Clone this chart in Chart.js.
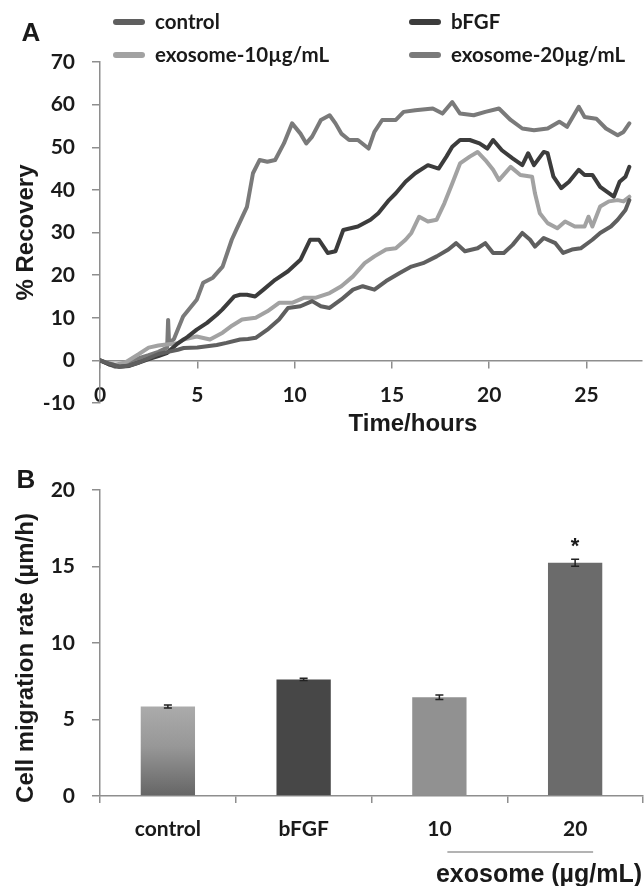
<!DOCTYPE html>
<html>
<head>
<meta charset="utf-8">
<script src="https://cdn.jsdelivr.net/npm/chart.js@4.4.0/dist/chart.umd.min.js"></script>
<style>
    body { margin: 0; background: #fff; }
    #wrap { position: relative; width: 644px; height: 886px; }
    canvas { position: absolute; left: 0; }
    #chartA { top: 0; }
    #chartB { top: 460px; }
</style>
</head>
<body>
<div id="wrap">
    <canvas id="chartA" width="644" height="450"></canvas>
    <canvas id="chartB" width="644" height="426"></canvas>
</div>
<script>
//DATA PANEL A  [time in hours, % recovery]
const seriesNames = ['control', 'bFGF', 'exosome-10µg/mL', 'exosome-20µg/mL'];
const seriesColors = ['#5f5f5f', '#3c3c3c', '#a2a2a2', '#7a7a7a'];

const controlCurve = [[0,0],[0.5,-0.8],[1,-1.5],[1.5,-1.2],[2,-0.5],[2.5,0.5],[3,1.5],[3.5,2],[4,2.5],[4.3,2.9],[5,3],[5.5,3.3],[6,3.6],[6.5,4.1],[7.2,4.9],[7.6,5],[8,5.3],[8.6,7.2],[9.2,9.6],[9.66,12.3],[10.3,12.7],[10.9,13.9],[11.35,12.7],[11.8,12.3],[12.4,14.3],[13,16.6],[13.5,17.4],[14.1,16.6],[14.7,18.6],[15.4,20.5],[16,22],[16.6,22.8],[17.3,24.4],[17.9,26],[18.3,27.5],[18.75,25.6],[19.4,26.3],[19.8,27.5],[20.2,25.2],[20.75,25.2],[21.2,27.1],[21.7,29.9],[22.1,28.3],[22.35,26.7],[22.8,28.7],[23.4,27.5],[23.8,25.2],[24.25,26],[24.7,26.3],[25.3,28.3],[25.7,29.9],[26.25,31.4],[26.6,33],[27,35.3],[27.2,37.6]];

const bfgfCurve = [[0,0],[0.5,-1],[1,-1.5],[1.5,-1.3],[2,-0.5],[2.5,0.3],[3,1],[3.43,1.7],[4,4],[4.5,5.5],[4.97,7.2],[5.5,8.8],[6,10.7],[6.28,11.9],[6.9,15],[7.2,15.4],[7.55,15.4],[7.97,15],[8.4,16.6],[9,18.9],[9.66,20.9],[10.3,23.6],[10.8,28.3],[11.25,28.3],[11.7,25.2],[12.1,25.6],[12.5,30.6],[13.25,31.4],[13.9,33],[14.3,34.5],[14.85,37.6],[15.2,39.2],[15.7,41.9],[16.2,43.9],[16.85,45.8],[17.4,45],[17.8,47.8],[18.1,50.1],[18.5,51.7],[19,51.7],[19.5,50.9],[19.9,49.7],[20.2,51.7],[20.65,49.3],[21.2,47.4],[21.7,45.8],[22,48.6],[22.3,45.8],[22.8,48.9],[23,48.6],[23.3,43.1],[23.7,40.4],[24.1,41.9],[24.6,44.7],[24.9,43.5],[25.3,43.5],[25.7,40.7],[26.4,38.4],[26.7,41.9],[27,43.1],[27.2,45.4]];

const exo10Curve = [[0,0],[0.4,-0.6],[0.8,-1],[1.3,-0.5],[2,1.5],[2.5,3],[3,3.5],[3.5,3.8],[4,4],[4.28,4.9],[4.97,5.6],[5.65,4.9],[6.3,6.5],[6.8,8.2],[7.3,9.6],[8,10],[8.6,11.5],[9.2,13.5],[9.87,13.5],[10.5,14.7],[11.1,14.7],[11.8,15.8],[12.4,17.4],[13,19.7],[13.6,22.8],[14.1,24.4],[14.7,26],[15.2,26.3],[15.7,28.3],[16,29.9],[16.4,33.7],[16.85,32.6],[17.3,33],[17.7,36.9],[18.1,41.5],[18.5,46.2],[19,47.8],[19.4,48.9],[19.8,47],[20.2,44.7],[20.5,42.3],[21.1,45.4],[21.6,43.5],[22.2,43.1],[22.35,39.2],[22.6,34.5],[23,32.2],[23.5,31],[23.9,32.6],[24.4,31.4],[24.9,31.4],[25.1,33.7],[25.3,31.4],[25.7,36.1],[26.15,37.3],[26.6,37.6],[26.9,37.3],[27.2,38.4]];

const exo20Curve = [[0,0],[0.4,-0.8],[0.8,-1.5],[1.3,-1],[2,0.5],[2.5,1.2],[3,2],[3.45,3],[3.5,9.5],[3.55,4],[3.8,5],[4.27,10.3],[4.97,14.2],[5.3,18.2],[5.8,19.4],[6.3,22],[6.77,28.3],[7,30.6],[7.55,36],[7.86,43.9],[8.2,47],[8.6,46.6],[9,47],[9.45,50.9],[9.87,55.6],[10.3,53.2],[10.6,50.9],[10.9,52.5],[11.35,56.4],[11.8,57.5],[12.1,55.6],[12.4,53.2],[12.8,51.7],[13.25,51.7],[13.8,49.7],[14.1,53.6],[14.5,56.4],[15.2,56.4],[15.6,58.3],[16.2,58.7],[17.1,59.1],[17.6,57.9],[18.1,60.6],[18.5,57.9],[19.2,57.5],[19.8,58.3],[20.5,59.1],[21.1,56.4],[21.7,54.4],[22.3,54],[23,54.4],[23.6,56],[24,54.8],[24.6,59.5],[24.9,57.1],[25.5,56.7],[26,54.4],[26.6,52.8],[26.9,53.6],[27.2,55.6]];

//DATA PANEL B
const barLabels = ['control', 'bFGF', '10', '20'];
const barValues = [5.85, 7.62, 6.45, 15.25];
const barErrors = [0.1, 0.07, 0.15, 0.23];
const barColors = [null, '#474747', '#919191', '#6b6b6b'];

//STYLE
const axisGray = '#8e8e8e';
const textColor = '#1a1a1a';
const titleFamily = '"Liberation Sans", Arial, sans-serif';
const tickFont = { family: 'Lato', size: 21, weight: 'bold' };

const drawText = (ctx, text, x, y, size, rotate) => {
    ctx.save();
    ctx.fillStyle = textColor;
    ctx.font = 'bold ' + size + 'px ' + titleFamily;
    ctx.textAlign = 'center';
    ctx.textBaseline = 'middle';
    ctx.translate(x, y);
    if (rotate) ctx.rotate(-Math.PI / 2);
    ctx.fillText(text, 0, 0);
    ctx.restore();
}

const toPoints = (curve) => curve.map(p => ({ x: p[0], y: p[1] }));

//PANEL A
const curves = [controlCurve, bfgfCurve, exo10Curve, exo20Curve];

const panelAExtras = {
    id: 'panelAExtras',
    afterDraw(chart) {
        const ctx = chart.ctx;
        drawText(ctx, 'A', 31, 34, 26);
        drawText(ctx, 'Time/hours', 413, 424, 24);

        //legend 2x2
        const slots = [[116, 22], [412, 22], [116, 55], [412, 55]];
        chart.data.datasets.forEach((ds, i) => {
            const [sx, sy] = slots[i];
            ctx.save();
            ctx.strokeStyle = ds.borderColor;
            ctx.lineWidth = 6;
            ctx.lineCap = 'round';
            ctx.beginPath();
            ctx.moveTo(sx, sy);
            ctx.lineTo(sx + 26, sy);
            ctx.stroke();
            ctx.fillStyle = textColor;
            ctx.font = 'bold 20.5px Lato';
            ctx.textAlign = 'left';
            ctx.textBaseline = 'middle';
            ctx.fillText(ds.label, sx + 39, sy);
            ctx.restore();
        });
    }
};

new Chart(document.getElementById('chartA'), {
    type: 'line',
    data: {
        datasets: seriesNames.map((name, i) => ({
            label: name,
            data: toPoints(curves[i]),
            borderColor: seriesColors[i],
            borderWidth: 4,
            pointRadius: 0,
            tension: 0,
            borderJoinStyle: 'round',
            borderCapStyle: 'round'
        }))
    },
    options: {
        responsive: false,
        animation: false,
        devicePixelRatio: 1,
        layout: { padding: { top: 62, right: 2, left: 0, bottom: 47 } },
        plugins: { legend: { display: false }, tooltip: { enabled: false } },
        scales: {
            x: {
                type: 'linear',
                min: 0,
                max: 27.85,
                position: { y: 0 },
                border: { color: axisGray, width: 1.5 },
                grid: { drawOnChartArea: false, tickLength: 7, color: axisGray, lineWidth: 1.5 },
                ticks: { stepSize: 5, includeBounds: false, padding: 15, font: tickFont, color: textColor, maxRotation: 0 }
            },
            y: {
                min: -10,
                max: 70,
                border: { color: axisGray, width: 1.5 },
                grid: { drawOnChartArea: false, tickLength: 8, color: axisGray, lineWidth: 1.5 },
                ticks: { stepSize: 10, padding: 17, font: tickFont, color: textColor },
                title: {
                    display: true,
                    text: '% Recovery',
                    color: textColor,
                    font: { family: titleFamily, size: 24, weight: 'bold' },
                    padding: { top: 12, bottom: 0 }
                },
                afterFit: (scale) => { scale.width = 100; }
            }
        }
    },
    plugins: [panelAExtras]
});

//PANEL B
const panelBExtras = {
    id: 'panelBExtras',
    afterDatasetsDraw(chart) {
        const ctx = chart.ctx;
        const yScale = chart.scales.y;
        const meta = chart.getDatasetMeta(0);
        ctx.save();
        ctx.strokeStyle = '#222';
        ctx.lineWidth = 1.5;
        meta.data.forEach((bar, i) => {
            const top = yScale.getPixelForValue(barValues[i] + barErrors[i]);
            const bottom = yScale.getPixelForValue(barValues[i] - barErrors[i]);
            ctx.beginPath();
            ctx.moveTo(bar.x, top);
            ctx.lineTo(bar.x, bottom);
            ctx.moveTo(bar.x - 4, top);
            ctx.lineTo(bar.x + 4, top);
            ctx.moveTo(bar.x - 4, bottom);
            ctx.lineTo(bar.x + 4, bottom);
            ctx.stroke();
        });
        ctx.restore();

        //significance mark on the 20 bar
        const last = meta.data[3];
        ctx.save();
        ctx.fillStyle = textColor;
        ctx.font = 'bold 22px ' + titleFamily;
        ctx.textAlign = 'center';
        ctx.textBaseline = 'middle';
        ctx.fillText('*', last.x, yScale.getPixelForValue(barValues[3] + barErrors[3]) - 12);
        ctx.restore();
    },
    afterDraw(chart) {
        const ctx = chart.ctx;
        const meta = chart.getDatasetMeta(0);
        drawText(ctx, 'B', 26, 21, 26);
        drawText(ctx, 'Cell migration rate (µm/h)', 26, 198, 24, true);

        ctx.save();
        ctx.strokeStyle = '#9a9a9a';
        ctx.lineWidth = 1.5;
        ctx.beginPath();
        ctx.moveTo(meta.data[2].x + 8, 392);
        ctx.lineTo(meta.data[3].x + 18, 392);
        ctx.stroke();
        ctx.restore();
        drawText(ctx, 'exosome (µg/mL)', 539, 415, 25);
    }
};

const controlGradient = (context) => {
    const chart = context.chart;
    if (!chart.chartArea) return '#8a8a8a';
    const yScale = chart.scales.y;
    const g = chart.ctx.createLinearGradient(0, yScale.getPixelForValue(barValues[0]), 0, yScale.getPixelForValue(0));
    g.addColorStop(0, '#ababab');
    g.addColorStop(0.45, '#979797');
    g.addColorStop(1, '#656565');
    return g;
}

new Chart(document.getElementById('chartB'), {
    type: 'bar',
    data: {
        labels: barLabels,
        datasets: [{
            data: barValues,
            backgroundColor: (context) => context.dataIndex === 0 ? controlGradient(context) : barColors[context.dataIndex],
            borderWidth: 0,
            categoryPercentage: 1,
            barPercentage: 0.4
        }]
    },
    options: {
        responsive: false,
        animation: false,
        devicePixelRatio: 1,
        layout: { padding: { top: 30, right: 1, left: 0, bottom: 50 } },
        plugins: { legend: { display: false }, tooltip: { enabled: false } },
        scales: {
            x: {
                border: { color: axisGray, width: 1.5 },
                grid: { drawOnChartArea: false, offset: true, tickLength: 7, color: axisGray, lineWidth: 1.5 },
                ticks: { padding: 14, font: tickFont, color: textColor, maxRotation: 0 },
                afterFit: (scale) => { scale.height = 40; }
            },
            y: {
                min: 0,
                max: 20,
                border: { color: axisGray, width: 1.5 },
                grid: { drawOnChartArea: false, tickLength: 8, color: axisGray, lineWidth: 1.5 },
                ticks: { stepSize: 5, padding: 17, font: tickFont, color: textColor },
                afterFit: (scale) => { scale.width = 100; }
            }
        }
    },
    plugins: [panelBExtras]
});
</script>
</body>
</html>
